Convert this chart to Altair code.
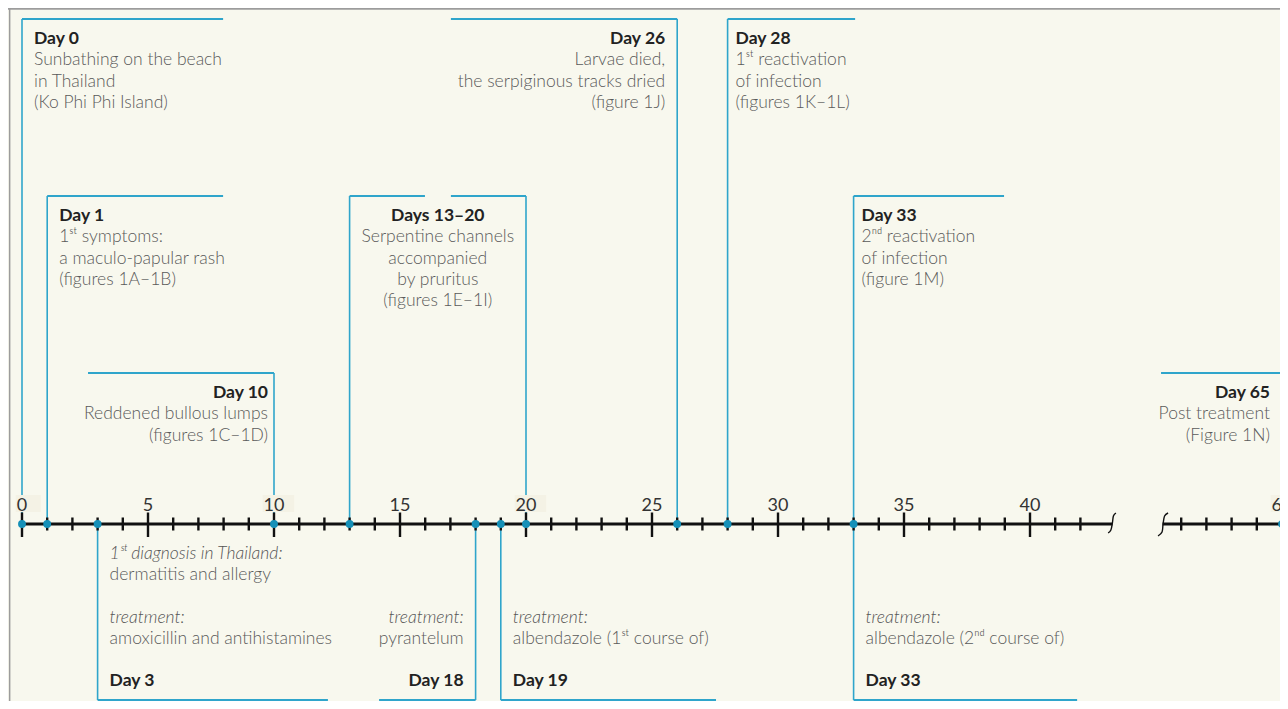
import altair as alt
import pandas as pd

# ---------------- data ----------------
event_days = [0, 1, 3, 10, 13, 18, 19, 20, 26, 28, 33, 65]
axis_label_days = [0, 5, 10, 15, 20, 25, 30, 35, 40, 65]
tick_days = list(range(0, 43)) + list(range(61, 66))
masked_label_days = [0, 10, 20, 65]

# callouts: anchor days, side, text lines (text, style) b=bold n=normal i=italic
callouts = [
    {"days": [0], "side": "up", "level": 19, "spans": [(0, 7.98)], "anchor": 0, "align": "left", "dx": 12,
     "lines": [("Day 0", "b"), ("Sunbathing on the beach", "n"), ("in Thailand", "n"), ("(Ko Phi Phi Island)", "n")]},
    {"days": [1], "side": "up", "level": 196, "spans": [(1, 7.98)], "anchor": 1, "align": "left", "dx": 12,
     "lines": [("Day 1", "b"), ("1ˢᵗ symptoms:", "n"), ("a maculo-papular rash", "n"), ("(figures 1A–1B)", "n")]},
    {"days": [10], "side": "up", "level": 373, "spans": [(2.62, 10)], "anchor": 10, "align": "right", "dx": -6,
     "lines": [("Day 10", "b"), ("Reddened bullous lumps", "n"), ("(figures 1C–1D)", "n")]},
    {"days": [13, 20], "side": "up", "level": 196, "spans": [(13, 15.99), (17.02, 20)], "anchor": 16.5,
     "align": "center", "dx": 0,
     "lines": [("Days 13–20", "b"), ("Serpentine channels", "n"), ("accompanied", "n"), ("by pruritus", "n"),
               ("(figures 1E–1I)", "n")]},
    {"days": [26], "side": "up", "level": 19, "spans": [(17.02, 26)], "anchor": 26, "align": "right", "dx": -12,
     "lines": [("Day 26", "b"), ("Larvae died,", "n"), ("the serpiginous tracks dried", "n"), ("(figure 1J)", "n")]},
    {"days": [28], "side": "up", "level": 19, "spans": [(28, 33.06)], "anchor": 28, "align": "left", "dx": 8,
     "lines": [("Day 28", "b"), ("1ˢᵗ reactivation", "n"), ("of infection", "n"), ("(figures 1K–1L)", "n")]},
    {"days": [33], "side": "up", "level": 196, "spans": [(33, 38.97)], "anchor": 33, "align": "left", "dx": 8,
     "lines": [("Day 33", "b"), ("2ⁿᵈ reactivation", "n"), ("of infection", "n"), ("(figure 1M)", "n")]},
    {"days": [65], "side": "up", "level": 373, "spans": [(60.2, 65)], "anchor": 65, "align": "right", "dx": -12,
     "lines": [("Day 65", "b"), ("Post treatment", "n"), ("(Figure 1N)", "n")]},
    {"days": [3], "side": "down", "level": 700, "spans": [(3, 12.14)], "anchor": 3, "align": "left", "dx": 12,
     "lines": [("1ˢᵗ diagnosis in Thailand:", "i"), ("dermatitis and allergy", "n"), ("", ""),
               ("treatment:", "i"), ("amoxicillin and antihistamines", "n"), ("", ""), ("Day 3", "b")]},
    {"days": [18], "side": "down", "level": 700, "spans": [(14.17, 18)], "anchor": 18, "align": "right", "dx": -12,
     "lines": [("", ""), ("", ""), ("", ""), ("treatment:", "i"), ("pyrantelum", "n"), ("", ""), ("Day 18", "b")]},
    {"days": [19], "side": "down", "level": 700, "spans": [(19, 27.54)], "anchor": 19, "align": "left", "dx": 12,
     "lines": [("", ""), ("", ""), ("", ""), ("treatment:", "i"), ("albendazole (1ˢᵗ course of)", "n"), ("", ""),
               ("Day 19", "b")]},
    {"days": [33], "side": "down", "level": 700, "spans": [(33, 41.87)], "anchor": 33, "align": "left", "dx": 12,
     "lines": [("", ""), ("", ""), ("", ""), ("treatment:", "i"), ("albendazole (2ⁿᵈ course of)", "n"), ("", ""),
               ("Day 33", "b")]},
]

# ---------------- layout / style ----------------
W, H = 1272, 693
PX_DAY = 25.2
X0 = 14.0
AXIS_Y = 524
LINE = 21.3
FONT = "Lato"
FS = 17.5
BG = "#F8F8EE"
TEAL = "#2FA5CB"
DOT = "#1590B8"
INK = "#111111"
X_MAX = (W - X0) / PX_DAY


def pos(d):
    return d if d <= 50 else d - 15


xs = alt.Scale(domain=[-X0 / PX_DAY, X_MAX], nice=False, zero=False)
ys = alt.Scale(domain=[8, 8 + H], reverse=True, nice=False, zero=False)


def X(f):
    return alt.X(f, type="quantitative", scale=xs, axis=None)


def Y(f):
    return alt.Y(f, type="quantitative", scale=ys, axis=None)


layers = []

# frame (top and left)
frame_h = pd.DataFrame({"x": [-X0 / PX_DAY], "x2": [X_MAX], "y": [8.8]})
frame_v = pd.DataFrame({"x": [-0.49], "y": [8], "y2": [8 + H]})
layers.append(alt.Chart(frame_h).mark_rule(color="#9c9c9c", strokeWidth=2).encode(x=X("x"), x2="x2", y=Y("y")))
layers.append(alt.Chart(frame_v).mark_rule(color="#9c9c9c", strokeWidth=1.5).encode(x=X("x"), y=Y("y"), y2="y2"))

# callout lines
vrows, hrows = [], []
for c in callouts:
    for d in c["days"]:
        vrows.append({"x": pos(d), "y": AXIS_Y, "y2": c["level"]})
    for a, b in c["spans"]:
        hrows.append({"x": pos(a), "x2": pos(b), "y": c["level"]})
layers.append(alt.Chart(pd.DataFrame(vrows)).mark_rule(color=TEAL, strokeWidth=1.6)
              .encode(x=X("x"), y=Y("y"), y2="y2"))
layers.append(alt.Chart(pd.DataFrame(hrows)).mark_rule(color=TEAL, strokeWidth=1.8)
              .encode(x=X("x"), x2="x2", y=Y("y")))

# masks behind tick labels
mrows = []
for d in masked_label_days:
    p = pos(d)
    if d < 10:
        mrows.append({"x": p - 0.25, "x2": p + 0.75, "y": 495, "y2": 512})
    else:
        mrows.append({"x": p - 0.45, "x2": p + 0.8, "y": 495, "y2": 512})
layers.append(alt.Chart(pd.DataFrame(mrows)).mark_rect(color="#F4F2E5")
              .encode(x=X("x"), x2="x2", y=Y("y"), y2="y2"))

# axis line segments
axis_df = pd.DataFrame({"x": [-0.06, 45.26], "x2": [43.27, X_MAX], "y": [AXIS_Y, AXIS_Y]})
layers.append(alt.Chart(axis_df).mark_rule(color=INK, strokeWidth=3).encode(x=X("x"), x2="x2", y=Y("y")))

# ticks
trows = []
for d in tick_days:
    if d % 5 == 0:
        trows.append({"x": pos(d), "y": AXIS_Y - 11.5, "y2": AXIS_Y + 13})
    else:
        trows.append({"x": pos(d), "y": AXIS_Y - 6.5, "y2": AXIS_Y + 6.5})
layers.append(alt.Chart(pd.DataFrame(trows)).mark_rule(color=INK, strokeWidth=2.4)
              .encode(x=X("x"), y=Y("y"), y2="y2"))

# break marks
brk = pd.DataFrame({
    "c": [1] * 5 + [2] * 5,
    "i": list(range(5)) * 2,
    "x": [43.41, 43.31, 43.27, 43.21, 43.10, 45.48, 45.34, 45.28, 45.24, 45.08],
    "y": [513, 516, 523, 530, 533, 513, 516, 524, 532, 536],
})
layers.append(alt.Chart(brk).mark_line(color=INK, strokeWidth=1.4, interpolate="cardinal")
              .encode(x=X("x"), y=Y("y"), detail="c:N", order="i:Q"))

# event dots
dots = pd.DataFrame({"x": [pos(d) for d in event_days], "y": [AXIS_Y] * len(event_days)})
layers.append(alt.Chart(dots).mark_circle(color=DOT, size=62, opacity=1).encode(x=X("x"), y=Y("y")))

# tick labels
lab = pd.DataFrame({"x": [pos(d) for d in axis_label_days], "y": [510.5] * len(axis_label_days),
                    "t": [str(d) for d in axis_label_days]})
layers.append(alt.Chart(lab).mark_text(font=FONT, fontSize=18, color="#333333", align="center",
                                       baseline="alphabetic").encode(x=X("x"), y=Y("y"), text="t:N"))

# callout texts
styles = {"b": dict(fontWeight="bold", fontStyle="normal", color="#222222"),
          "n": dict(fontWeight=300, fontStyle="normal", color="#5a5a5a"),
          "i": dict(fontWeight=300, fontStyle="italic", color="#555555")}
for c in callouts:
    rows = {"b": [], "n": [], "i": []}
    for k, (t, s) in enumerate(c["lines"]):
        if not t:
            continue
        if c["side"] == "up":
            yb = c["level"] + 25 + LINE * k
        else:
            yb = 559 + 21.2 * k
        rows[s].append({"x": pos(c["anchor"]), "y": yb, "t": t})
    for s, r in rows.items():
        if not r:
            continue
        layers.append(alt.Chart(pd.DataFrame(r)).mark_text(
            font=FONT, fontSize=FS, align=c["align"], dx=c["dx"], baseline="alphabetic", **styles[s]
        ).encode(x=X("x"), y=Y("y"), text="t:N"))

chart = alt.layer(*layers).properties(
    width=W, height=H, padding=0, autosize="none", background=BG
).configure_view(stroke=None)

chart.save("out.html", embed_options={"renderer": "svg", "actions": False})
